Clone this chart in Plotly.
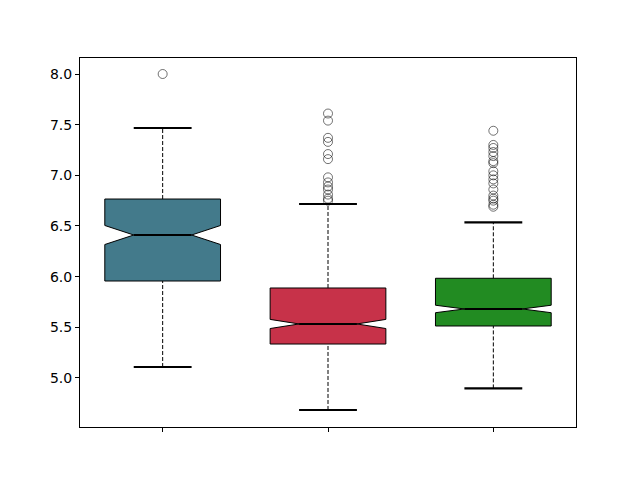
import plotly.graph_objects as go

# ---- data ----
positions = [1, 2, 3]
q1 = [5.957, 5.335, 5.513]
median = [6.411, 5.533, 5.681]
q3 = [6.766, 5.888, 5.984]
whisker_low = [5.108, 4.684, 4.897]
whisker_high = [7.467, 6.717, 6.536]
notch_half = [0.094, 0.045, 0.037]
outliers = [
    [8.0],
    [7.61, 7.54, 7.37, 7.33, 7.21, 7.16, 6.98, 6.93, 6.89, 6.86, 6.81, 6.77, 6.75],
    [7.44, 7.30, 7.27, 7.23, 7.19, 7.14, 7.12, 7.04, 7.00, 6.96, 6.92, 6.86, 6.80, 6.77, 6.75, 6.71, 6.69],
]
colors = ["#437a8b", "#c73249", "#228b22"]

box_width = 0.7
cap_width = 0.35

fig = go.Figure()

for i, x in enumerate(positions):
    hw = box_width / 2
    nw = box_width / 4
    nlo = median[i] - notch_half[i]
    nhi = median[i] + notch_half[i]
    px = [x - hw, x + hw, x + hw, x + nw, x + hw, x + hw, x - hw, x - hw, x - nw, x - hw, x - hw]
    py = [q1[i], q1[i], nlo, median[i], nhi, q3[i], q3[i], nhi, median[i], nlo, q1[i]]
    # whiskers (dashed)
    fig.add_trace(go.Scatter(x=[x, x, None, x, x],
                             y=[whisker_low[i], q1[i], None, q3[i], whisker_high[i]],
                             mode="lines", line=dict(color="black", width=1, dash="4px,2px"),
                             hoverinfo="skip", showlegend=False))
    # notched box
    fig.add_trace(go.Scatter(x=px, y=py, mode="lines", fill="toself",
                             fillcolor=colors[i], line=dict(color="black", width=1),
                             hoverinfo="skip", showlegend=False))
    # median
    fig.add_trace(go.Scatter(x=[x - nw, x + nw], y=[median[i], median[i]], mode="lines",
                             line=dict(color="black", width=2), showlegend=False))
    # caps
    cw = cap_width / 2
    fig.add_trace(go.Scatter(x=[x - cw, x + cw, None, x - cw, x + cw],
                             y=[whisker_low[i], whisker_low[i], None, whisker_high[i], whisker_high[i]],
                             mode="lines", line=dict(color="black", width=2.2), showlegend=False))
    # outliers
    fig.add_trace(go.Scatter(x=[x] * len(outliers[i]), y=outliers[i], mode="markers",
                             marker=dict(symbol="circle-open", size=9, color="rgba(0,0,0,0.55)",
                                         line=dict(width=1)),
                             showlegend=False))

fig.update_layout(
    width=632, height=472,
    margin=dict(l=72, r=64, t=50, b=53),
    paper_bgcolor="white", plot_bgcolor="white",
    font=dict(family="DejaVu Sans", size=14, color="black"),
    xaxis=dict(range=[0.5, 3.5], tickvals=positions, ticktext=["", "", ""],
               showgrid=False, zeroline=False, showline=True, linecolor="black",
               linewidth=1, mirror=True, ticks="outside", ticklen=4, tickwidth=1,
               tickcolor="black"),
    yaxis=dict(range=[4.516, 8.158], tickvals=[5.0, 5.5, 6.0, 6.5, 7.0, 7.5, 8.0],
               ticktext=["5.0", "5.5", "6.0", "6.5", "7.0", "7.5", "8.0"],
               showgrid=False, zeroline=False, showline=True, linecolor="black",
               linewidth=1, mirror=True, ticks="outside", ticklen=4, tickwidth=1,
               tickcolor="black"),
)

fig.write_html("out.html")
